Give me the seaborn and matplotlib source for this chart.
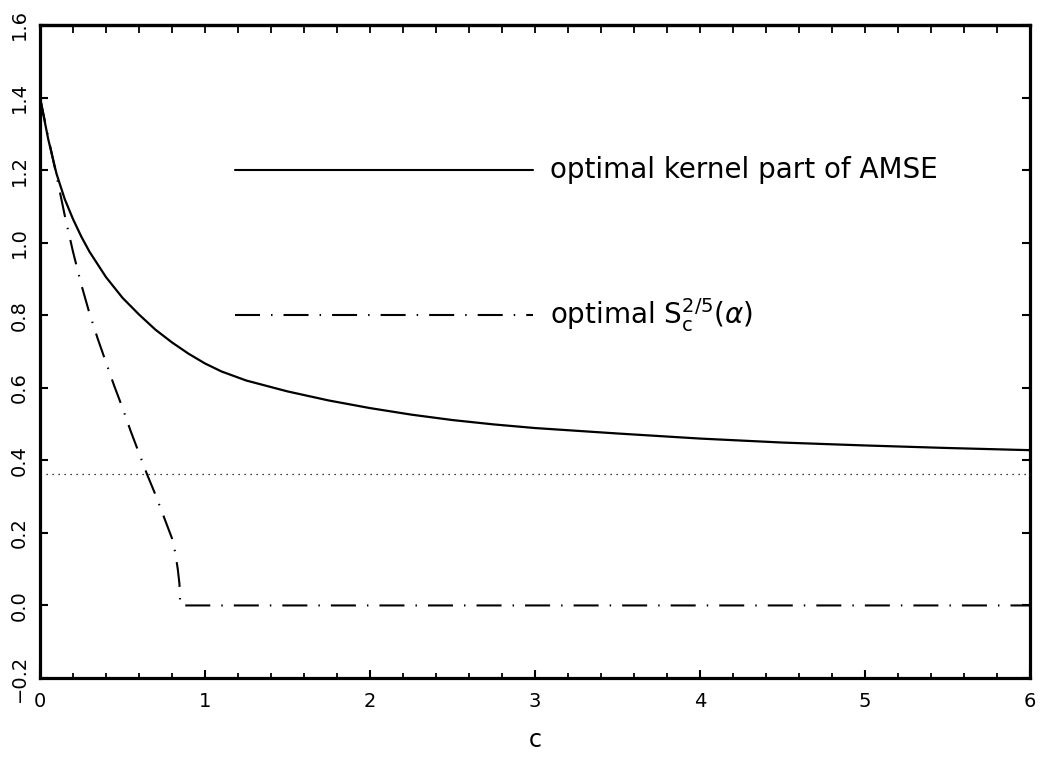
import matplotlib
matplotlib.use("Agg")
import matplotlib.pyplot as plt
import seaborn as sns
import pandas as pd

# Optimal-kernel part of the AMSE as a function of c
c_kernel = [0.0, 0.05, 0.1, 0.15, 0.2, 0.25, 0.3, 0.4, 0.5, 0.6, 0.7, 0.8,
            0.9, 1.0, 1.1, 1.25, 1.5, 1.75, 2.0, 2.25, 2.5, 2.75, 3.0, 3.5,
            4.0, 4.5, 5.0, 5.5, 6.0]
amse_kernel = [1.40, 1.285, 1.19, 1.12, 1.065, 1.017, 0.975, 0.905, 0.848,
               0.802, 0.760, 0.725, 0.694, 0.667, 0.645, 0.620, 0.590, 0.565,
               0.544, 0.526, 0.511, 0.499, 0.489, 0.474, 0.460, 0.449, 0.441,
               0.434, 0.428]

# Optimal S_c^{2/5}(alpha) as a function of c
c_alpha = [0.0, 0.05, 0.1, 0.15, 0.2, 0.25, 0.3, 0.35, 0.4, 0.45, 0.5, 0.55,
           0.6, 0.65, 0.7, 0.75, 0.8, 0.82, 0.835, 0.845, 0.85, 1.0, 2.0, 3.0,
           4.0, 5.0, 6.0]
s_alpha = [1.40, 1.29, 1.185, 1.075, 0.975, 0.885, 0.805, 0.735, 0.67, 0.605,
           0.545, 0.48, 0.42, 0.36, 0.305, 0.245, 0.185, 0.145, 0.10, 0.06,
           0.0, 0.0, 0.0, 0.0, 0.0, 0.0, 0.0]

# Horizontal reference level
ref_c = [0.0, 6.0]
ref_level = [0.363, 0.363]

legend_labels = ["optimal kernel part of AMSE",
                 r"optimal $\mathrm{S}_\mathrm{c}^{2/5}(\alpha)$"]
x_ticks = [0, 1, 2, 3, 4, 5, 6]
y_ticks = [-0.2, 0.0, 0.2, 0.4, 0.6, 0.8, 1.0, 1.2, 1.4, 1.6]

sns.set_style("ticks")
plt.rcParams["font.family"] = ["DejaVu Sans"]
plt.rcParams["mathtext.fontset"] = "dejavusans"
for key in ["text.color", "axes.labelcolor", "xtick.color", "ytick.color",
            "axes.edgecolor"]:
    plt.rcParams[key] = "black"

fig = plt.figure(figsize=(10.43, 7.58), dpi=100)
ax = fig.add_axes([40 / 1043, 1 - 678 / 758, 990 / 1043, 653 / 758])

df_k = pd.DataFrame({"c": c_kernel, "v": amse_kernel})
df_a = pd.DataFrame({"c": c_alpha, "v": s_alpha})
df_r = pd.DataFrame({"c": ref_c, "v": ref_level})

dashdot = (0, (12, 5.3, 0.7, 5.3))

sns.lineplot(data=df_k, x="c", y="v", ax=ax, color="black", linewidth=1.6,
             estimator=None, sort=False)
sns.lineplot(data=df_a, x="c", y="v", ax=ax, color="black", linewidth=1.5,
             estimator=None, sort=False)
ax.lines[-1].set_linestyle(dashdot)
sns.lineplot(data=df_r, x="c", y="v", ax=ax, color="black", linewidth=0.9,
             estimator=None, sort=False)
ax.lines[-1].set_linestyle((0, (1.0, 3.8)))

# In-plot key
key_x0, key_x1, key_tx = 1.18, 2.99, 3.09
ax.plot([key_x0, key_x1], [1.2, 1.2], color="black", linewidth=1.5)
ax.text(key_tx, 1.2, legend_labels[0], fontsize=20, va="center", ha="left")
ax.plot([key_x0, key_x1], [0.8, 0.8], color="black", linewidth=1.5,
        linestyle=dashdot)
ax.text(key_tx, 0.8, legend_labels[1], fontsize=20, va="center", ha="left")

ax.set_xlim(0, 6)
ax.set_ylim(-0.2, 1.6)
ax.set_xticks(x_ticks)
ax.set_xticks([i * 0.2 for i in range(31)], minor=True)
ax.set_xticklabels([str(t) for t in x_ticks])
ax.set_yticks(y_ticks)
ax.set_yticklabels([f"{t:.1f}".replace("-", "\u2212") for t in y_ticks])

for side in ["left", "right", "top", "bottom"]:
    ax.spines[side].set_visible(True)
    ax.spines[side].set_linewidth(2.3)
    ax.spines[side].set_color("black")

ax.tick_params(axis="x", which="major", direction="in", length=6, width=1.5,
               labelsize=14, pad=10, bottom=True, top=False)
ax.tick_params(axis="x", which="minor", direction="in", length=3.5, width=1.3,
               bottom=True, top=False)
ax.tick_params(axis="y", which="major", direction="in", length=6, width=1.5,
               labelsize=14, pad=8, left=True, right=True, labelrotation=90)
for lab in ax.get_yticklabels():
    lab.set_va("center")

top = ax.secondary_xaxis("top")
top.set_xticks([i * 0.2 for i in range(31)])
top.tick_params(direction="in", length=5.5, width=1.3, labeltop=False)
top.spines["top"].set_linewidth(2.3)

ax.set_xlabel("c", fontsize=17, labelpad=12)
ax.set_ylabel("")

fig.savefig("out.png", dpi=100)
